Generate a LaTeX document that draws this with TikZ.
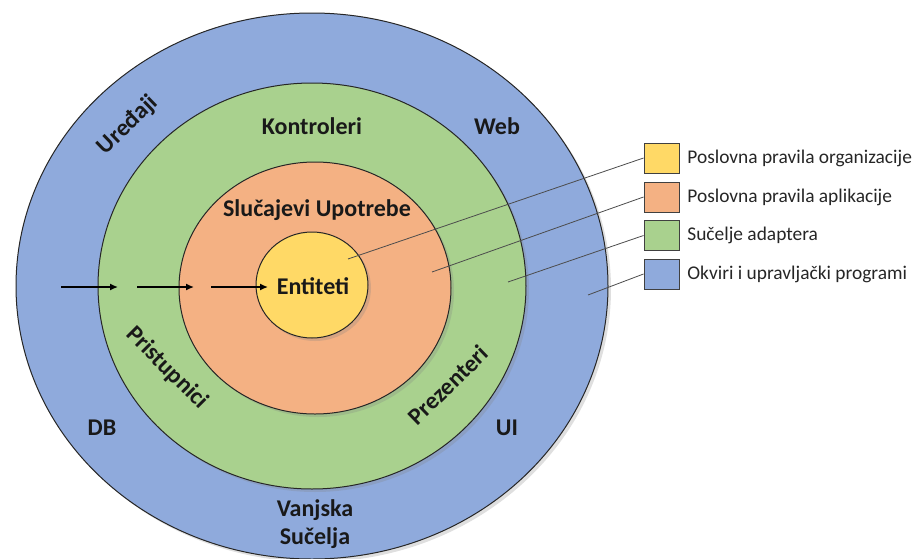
\documentclass[tikz,border=0pt]{standalone}
\usepackage{fontspec}
\setmainfont{Carlito}
\usetikzlibrary{shapes.geometric,shadows,arrows.meta}
\definecolor{okvir}{HTML}{8FAADC}
\definecolor{adapter}{HTML}{A9D18E}
\definecolor{slucaj}{HTML}{F4B183}
\definecolor{entitet}{HTML}{FFD966}
\begin{document}
\begin{tikzpicture}[x=0.5pt, y=-0.5pt,
	ring/.style = {draw=black!85, line width=0.5pt, ellipse, inner sep=0pt,
		drop shadow={opacity=0.25, shadow xshift=1.5pt, shadow yshift=-1.5pt}},
	lbl/.style = {font=\bfseries\fontsize{12}{14}\selectfont, text=black!90, align=center},
	legbox/.style = {draw=black!75, line width=0.5pt, minimum width=17.5pt, minimum height=15pt, inner sep=0pt},
	legtxt/.style = {anchor=west, inner sep=0pt, font=\fontsize{9.7}{11}\selectfont, text=black!85},
	pointer/.style = {draw=black!70, line width=0.4pt},
	flow/.style = {-{Latex[length=4pt, width=3.5pt]}, line width=0.7pt}]
	\useasboundingbox (0,0) rectangle (917,558);

	% rings
	\node[ring, fill=okvir, minimum width=296pt, minimum height=273pt] (okviri) at (312,286) {};
	\node[ring, fill=adapter, minimum width=214pt, minimum height=203pt] (adapteri) at (312,286) {};
	\node[ring, fill=slucaj, minimum width=136pt, minimum height=126pt] (slucajevi) at (315,288) {};
	\node[ring, fill=entitet, minimum width=56pt, minimum height=53pt] (entiteti) at (312,285) {};

	% labels
	\node[lbl] (ent) at (313,286) {Entiteti};
	\node[lbl] (upo) at (317,210) {Slučajevi Upotrebe};
	\node[lbl] (kon) at (312,126) {Kontroleri};
	\node[lbl, rotate=-45] (pri) at (167,368) {Pristupnici};
	\node[lbl, rotate=44] (pre) at (448,385) {Prezenteri};
	\node[lbl, rotate=44] (ure) at (128,125) {Uređaji};
	\node[lbl] (web) at (497,126) {Web};
	\node[lbl] (db) at (102,428) {DB};
	\node[lbl] (ui) at (507,428) {UI};
	\node[lbl] (van) at (315,524) {Vanjska\\Sučelja};

	% arrows
	\coordinate (a0) at (61,287);
	\coordinate (a1) at (118,287);
	\coordinate (b0) at (137,287);
	\coordinate (b1) at (194,287);
	\coordinate (c0) at (211,287);
	\coordinate (c1) at (268,287);
	\draw[flow] (a0) -- (a1);
	\draw[flow] (b0) -- (b1);
	\draw[flow] (c0) -- (c1);

	% legend
	\node[legbox, fill=entitet] (l1) at (661.5,158) {};
	\node[legbox, fill=slucaj] (l2) at (661.5,197) {};
	\node[legbox, fill=adapter] (l3) at (661.5,235.5) {};
	\node[legbox, fill=okvir] (l4) at (661.5,274) {};
	\node[legtxt] (t1) at (687,158) {Poslovna pravila organizacije};
	\node[legtxt] (t2) at (687,197) {Poslovna pravila aplikacije};
	\node[legtxt] (t3) at (687,235.5) {Sučelje adaptera};
	\node[legtxt] (t4) at (687,274) {Okviri i upravljački programi};

	\coordinate (p1) at (348,259);
	\coordinate (p2) at (432,272);
	\coordinate (p3) at (508,282);
	\coordinate (p4) at (588,295);
	\draw[pointer] (l1.west) -- (p1)
		(l2.west) -- (p2)
		(l3.west) -- (p3)
		(l4.west) -- (p4);
\end{tikzpicture}
\end{document}
